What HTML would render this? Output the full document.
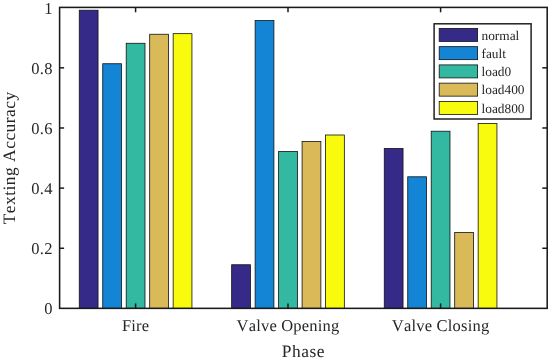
<!DOCTYPE html>
<html><head><meta charset="utf-8"><title>chart</title>
<style>
html,body{margin:0;padding:0;background:#fff;}
body{width:550px;height:360px;overflow:hidden;}
svg{display:block;}
text{font-family:"Liberation Serif",serif;fill:#262626;font-kerning:none;text-rendering:geometricPrecision;}
svg{will-change:transform;opacity:0.999;}
</style></head><body>
<svg width="550" height="360" viewBox="0 0 550 360">
<rect x="0" y="0" width="550" height="360" fill="#ffffff"/>
<rect x="79.26" y="10.21" width="18.78" height="298.14" fill="#352a87" stroke="#111" stroke-width="0.8"/>
<rect x="102.73" y="63.73" width="18.78" height="244.62" fill="#1484d4" stroke="#111" stroke-width="0.8"/>
<rect x="126.21" y="43.28" width="18.78" height="265.07" fill="#33b8a1" stroke="#111" stroke-width="0.8"/>
<rect x="149.69" y="34.26" width="18.78" height="274.09" fill="#d9b958" stroke="#111" stroke-width="0.8"/>
<rect x="173.16" y="33.66" width="18.78" height="274.69" fill="#f9fb0e" stroke="#111" stroke-width="0.8"/>
<rect x="231.66" y="264.75" width="18.78" height="43.60" fill="#352a87" stroke="#111" stroke-width="0.8"/>
<rect x="255.13" y="20.58" width="18.78" height="287.77" fill="#1484d4" stroke="#111" stroke-width="0.8"/>
<rect x="278.61" y="151.54" width="18.78" height="156.81" fill="#33b8a1" stroke="#111" stroke-width="0.8"/>
<rect x="302.09" y="141.40" width="18.78" height="166.95" fill="#d9b958" stroke="#111" stroke-width="0.8"/>
<rect x="325.56" y="135.00" width="18.78" height="173.35" fill="#f9fb0e" stroke="#111" stroke-width="0.8"/>
<rect x="384.26" y="148.53" width="18.78" height="159.82" fill="#352a87" stroke="#111" stroke-width="0.8"/>
<rect x="407.73" y="176.79" width="18.78" height="131.56" fill="#1484d4" stroke="#111" stroke-width="0.8"/>
<rect x="431.21" y="131.21" width="18.78" height="177.14" fill="#33b8a1" stroke="#111" stroke-width="0.8"/>
<rect x="454.69" y="232.51" width="18.78" height="75.84" fill="#d9b958" stroke="#111" stroke-width="0.8"/>
<rect x="478.16" y="123.57" width="18.78" height="184.78" fill="#f9fb0e" stroke="#111" stroke-width="0.8"/>
<rect x="59.6" y="7.4" width="487.6" height="300.95000000000005" fill="none" stroke="#1a1a1a" stroke-width="1.55"/>
<line x1="135.6" y1="308.35" x2="135.6" y2="303.45000000000005" stroke="#1a1a1a" stroke-width="1.5"/>
<line x1="135.6" y1="7.4" x2="135.6" y2="12.3" stroke="#1a1a1a" stroke-width="1.5"/>
<line x1="288.0" y1="308.35" x2="288.0" y2="303.45000000000005" stroke="#1a1a1a" stroke-width="1.5"/>
<line x1="288.0" y1="7.4" x2="288.0" y2="12.3" stroke="#1a1a1a" stroke-width="1.5"/>
<line x1="440.6" y1="308.35" x2="440.6" y2="303.45000000000005" stroke="#1a1a1a" stroke-width="1.5"/>
<line x1="440.6" y1="7.4" x2="440.6" y2="12.3" stroke="#1a1a1a" stroke-width="1.5"/>
<text x="52.6" y="314.40" font-size="16.5" letter-spacing="0.2" text-anchor="end">0</text>
<line x1="59.6" y1="248.26" x2="64.1" y2="248.26" stroke="#1a1a1a" stroke-width="1.5"/>
<line x1="547.2" y1="248.26" x2="542.3000000000001" y2="248.26" stroke="#1a1a1a" stroke-width="1.5"/>
<text x="52.6" y="254.26" font-size="16.5" letter-spacing="0.2" text-anchor="end">0.2</text>
<line x1="59.6" y1="188.12" x2="64.1" y2="188.12" stroke="#1a1a1a" stroke-width="1.5"/>
<line x1="547.2" y1="188.12" x2="542.3000000000001" y2="188.12" stroke="#1a1a1a" stroke-width="1.5"/>
<text x="52.6" y="194.12" font-size="16.5" letter-spacing="0.2" text-anchor="end">0.4</text>
<line x1="59.6" y1="127.98" x2="64.1" y2="127.98" stroke="#1a1a1a" stroke-width="1.5"/>
<line x1="547.2" y1="127.98" x2="542.3000000000001" y2="127.98" stroke="#1a1a1a" stroke-width="1.5"/>
<text x="52.6" y="133.98" font-size="16.5" letter-spacing="0.2" text-anchor="end">0.6</text>
<line x1="59.6" y1="67.84" x2="64.1" y2="67.84" stroke="#1a1a1a" stroke-width="1.5"/>
<line x1="547.2" y1="67.84" x2="542.3000000000001" y2="67.84" stroke="#1a1a1a" stroke-width="1.5"/>
<text x="52.6" y="73.84" font-size="16.5" letter-spacing="0.2" text-anchor="end">0.8</text>
<text x="52.6" y="13.70" font-size="16.5" letter-spacing="0.2" text-anchor="end">1</text>
<text x="135.6" y="331.2" font-size="16.5" letter-spacing="0.2" text-anchor="middle">Fire</text>
<text x="288.0" y="331.2" font-size="16.5" letter-spacing="0.2" text-anchor="middle">Valve Opening</text>
<text x="440.6" y="331.2" font-size="16.5" letter-spacing="0.2" text-anchor="middle">Valve Closing</text>
<text x="303.4" y="356.8" font-size="17.4" letter-spacing="0.5" text-anchor="middle">Phase</text>
<text transform="translate(15.4,157.8) rotate(-90)" font-size="17.4" letter-spacing="0.5" text-anchor="middle">Texting Accuracy</text>
<rect x="434.1" y="23.8" width="97.0" height="95.2" fill="#fff" stroke="#1a1a1a" stroke-width="1.45"/>
<rect x="439.2" y="28.40" width="38.4" height="13.0" fill="#352a87" stroke="#111" stroke-width="0.8"/>
<text x="481.5" y="39.70" font-size="13.35">normal</text>
<rect x="439.2" y="46.65" width="38.4" height="13.0" fill="#1484d4" stroke="#111" stroke-width="0.8"/>
<text x="481.5" y="57.95" font-size="13.35">fault</text>
<rect x="439.2" y="64.90" width="38.4" height="13.0" fill="#33b8a1" stroke="#111" stroke-width="0.8"/>
<text x="481.5" y="76.20" font-size="13.35">load0</text>
<rect x="439.2" y="83.15" width="38.4" height="13.0" fill="#d9b958" stroke="#111" stroke-width="0.8"/>
<text x="481.5" y="94.45" font-size="13.35">load400</text>
<rect x="439.2" y="101.40" width="38.4" height="13.0" fill="#f9fb0e" stroke="#111" stroke-width="0.8"/>
<text x="481.5" y="112.70" font-size="13.35">load800</text>
</svg>
</body></html>
